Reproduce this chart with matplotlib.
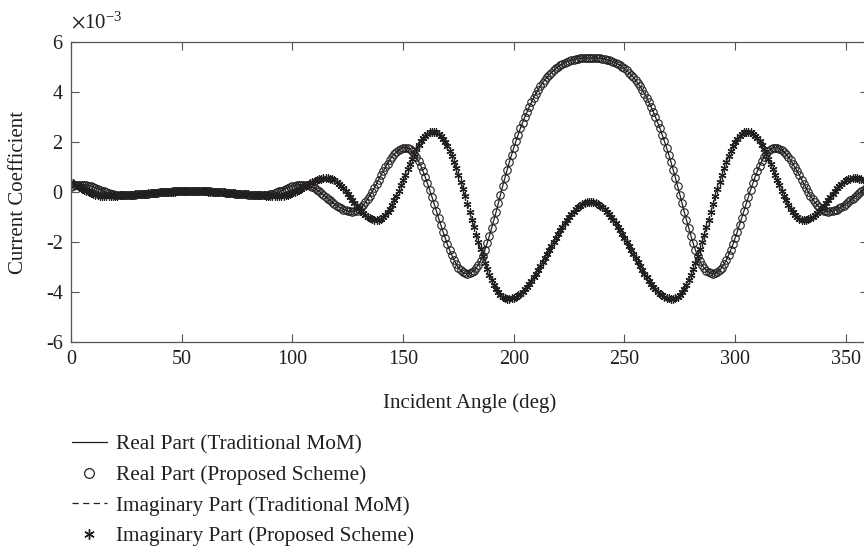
import matplotlib
matplotlib.use("Agg")
import matplotlib.pyplot as plt
from matplotlib.lines import Line2D

# incident angle (deg), one sample per degree
angle = list(range(0, 361))

# current coefficient, in units of 1e-3
real_part = [
    0.20, 0.24, 0.27, 0.29, 0.30, 0.30, 0.29, 0.28, 0.26, 0.24,
    0.21, 0.17, 0.14, 0.10, 0.06, 0.03, -0.01, -0.04, -0.07, -0.09,
    -0.11, -0.12, -0.12, -0.12, -0.12, -0.12, -0.11, -0.11, -0.11, -0.10,
    -0.09, -0.09, -0.08, -0.07, -0.07, -0.06, -0.05, -0.04, -0.03, -0.02,
    -0.01, -0.01, 0.00, 0.01, 0.02, 0.02, 0.03, 0.04, 0.04, 0.05,
    0.05, 0.05, 0.06, 0.06, 0.06, 0.06, 0.06, 0.06, 0.05, 0.05,
    0.05, 0.04, 0.04, 0.03, 0.02, 0.02, 0.01, 0.00, -0.01, -0.01,
    -0.02, -0.03, -0.04, -0.05, -0.06, -0.07, -0.07, -0.08, -0.09, -0.09,
    -0.10, -0.11, -0.11, -0.11, -0.12, -0.12, -0.12, -0.12, -0.12, -0.11,
    -0.09, -0.07, -0.04, -0.01, 0.03, 0.06, 0.10, 0.14, 0.17, 0.21,
    0.24, 0.26, 0.28, 0.29, 0.30, 0.30, 0.29, 0.27, 0.24, 0.20,
    0.15, 0.09, 0.03, -0.04, -0.11, -0.18, -0.26, -0.33, -0.41, -0.48,
    -0.54, -0.60, -0.65, -0.70, -0.73, -0.76, -0.77, -0.78, -0.77, -0.74,
    -0.68, -0.61, -0.52, -0.41, -0.28, -0.14, 0.01, 0.17, 0.33, 0.50,
    0.67, 0.83, 0.99, 1.14, 1.28, 1.41, 1.52, 1.61, 1.68, 1.74,
    1.77, 1.78, 1.76, 1.72, 1.64, 1.53, 1.39, 1.23, 1.04, 0.83,
    0.60, 0.35, 0.09, -0.18, -0.46, -0.75, -1.03, -1.31, -1.58, -1.84,
    -2.09, -2.32, -2.53, -2.72, -2.88, -3.02, -3.13, -3.21, -3.25, -3.27,
    -3.25, -3.21, -3.14, -3.04, -2.91, -2.75, -2.55, -2.31, -2.04, -1.75,
    -1.44, -1.12, -0.80, -0.45, -0.10, 0.24, 0.57, 0.89, 1.20, 1.49,
    1.77, 2.04, 2.30, 2.55, 2.78, 3.00, 3.21, 3.41, 3.60, 3.78,
    3.94, 4.09, 4.23, 4.36, 4.48, 4.59, 4.69, 4.78, 4.86, 4.94,
    5.01, 5.07, 5.12, 5.17, 5.21, 5.24, 5.27, 5.30, 5.32, 5.34,
    5.35, 5.36, 5.36, 5.36, 5.36, 5.36, 5.36, 5.36, 5.36, 5.35,
    5.34, 5.32, 5.30, 5.27, 5.24, 5.21, 5.17, 5.12, 5.07, 5.01,
    4.94, 4.86, 4.78, 4.69, 4.59, 4.48, 4.36, 4.23, 4.09, 3.94,
    3.78, 3.60, 3.41, 3.21, 3.00, 2.78, 2.55, 2.30, 2.04, 1.77,
    1.49, 1.20, 0.89, 0.57, 0.24, -0.10, -0.45, -0.80, -1.12, -1.44,
    -1.75, -2.04, -2.31, -2.55, -2.75, -2.91, -3.04, -3.14, -3.21, -3.25,
    -3.27, -3.25, -3.21, -3.13, -3.02, -2.88, -2.72, -2.53, -2.32, -2.09,
    -1.84, -1.58, -1.31, -1.03, -0.75, -0.46, -0.18, 0.09, 0.35, 0.60,
    0.83, 1.04, 1.23, 1.39, 1.53, 1.64, 1.72, 1.76, 1.78, 1.77,
    1.74, 1.68, 1.61, 1.52, 1.41, 1.28, 1.14, 0.99, 0.83, 0.67,
    0.50, 0.33, 0.17, 0.01, -0.14, -0.28, -0.41, -0.52, -0.61, -0.68,
    -0.74, -0.77, -0.78, -0.77, -0.76, -0.73, -0.70, -0.65, -0.60, -0.54,
    -0.48, -0.41, -0.33, -0.26, -0.18, -0.11, -0.04, 0.03, 0.09, 0.15,
    0.20,
]

imag_part = [
    0.39, 0.35, 0.30, 0.24, 0.19, 0.13, 0.08, 0.03, -0.01, -0.05,
    -0.09, -0.11, -0.13, -0.15, -0.15, -0.15, -0.15, -0.15, -0.15, -0.14,
    -0.14, -0.14, -0.13, -0.13, -0.12, -0.12, -0.11, -0.11, -0.10, -0.09,
    -0.09, -0.08, -0.07, -0.06, -0.06, -0.05, -0.04, -0.03, -0.03, -0.02,
    -0.01, -0.01, 0.00, 0.00, 0.01, 0.02, 0.02, 0.02, 0.03, 0.03,
    0.03, 0.04, 0.04, 0.04, 0.04, 0.04, 0.04, 0.04, 0.04, 0.03,
    0.03, 0.03, 0.02, 0.02, 0.02, 0.01, 0.00, 0.00, -0.01, -0.01,
    -0.02, -0.03, -0.03, -0.04, -0.05, -0.06, -0.06, -0.07, -0.08, -0.09,
    -0.09, -0.10, -0.11, -0.11, -0.12, -0.12, -0.13, -0.13, -0.14, -0.14,
    -0.14, -0.15, -0.15, -0.15, -0.15, -0.15, -0.15, -0.13, -0.11, -0.09,
    -0.05, -0.01, 0.03, 0.08, 0.13, 0.19, 0.24, 0.30, 0.35, 0.39,
    0.44, 0.48, 0.51, 0.53, 0.55, 0.56, 0.56, 0.54, 0.51, 0.47,
    0.41, 0.33, 0.24, 0.15, 0.04, -0.07, -0.19, -0.30, -0.42, -0.54,
    -0.64, -0.75, -0.84, -0.92, -0.99, -1.05, -1.09, -1.11, -1.12, -1.11,
    -1.07, -1.00, -0.91, -0.79, -0.66, -0.50, -0.33, -0.14, 0.06, 0.27,
    0.49, 0.70, 0.92, 1.13, 1.34, 1.54, 1.72, 1.88, 2.03, 2.15,
    2.26, 2.34, 2.39, 2.42, 2.42, 2.39, 2.33, 2.25, 2.13, 1.99,
    1.83, 1.64, 1.43, 1.20, 0.96, 0.70, 0.42, 0.13, -0.17, -0.48,
    -0.79, -1.10, -1.40, -1.71, -2.01, -2.29, -2.57, -2.83, -3.08, -3.31,
    -3.51, -3.70, -3.86, -4.00, -4.11, -4.19, -4.24, -4.27, -4.27, -4.25,
    -4.22, -4.18, -4.13, -4.06, -3.98, -3.88, -3.78, -3.67, -3.54, -3.41,
    -3.27, -3.12, -2.97, -2.81, -2.65, -2.49, -2.33, -2.16, -2.00, -1.84,
    -1.68, -1.53, -1.39, -1.25, -1.12, -0.99, -0.88, -0.78, -0.69, -0.61,
    -0.54, -0.48, -0.44, -0.41, -0.40, -0.40, -0.41, -0.44, -0.48, -0.54,
    -0.61, -0.69, -0.78, -0.88, -0.99, -1.12, -1.25, -1.39, -1.53, -1.68,
    -1.84, -2.00, -2.16, -2.33, -2.49, -2.65, -2.81, -2.97, -3.12, -3.27,
    -3.41, -3.54, -3.67, -3.78, -3.88, -3.98, -4.06, -4.13, -4.18, -4.22,
    -4.25, -4.27, -4.27, -4.24, -4.19, -4.11, -4.00, -3.86, -3.70, -3.51,
    -3.31, -3.08, -2.83, -2.57, -2.29, -2.01, -1.71, -1.40, -1.10, -0.79,
    -0.48, -0.17, 0.13, 0.42, 0.70, 0.96, 1.20, 1.43, 1.64, 1.83,
    1.99, 2.13, 2.25, 2.33, 2.39, 2.42, 2.42, 2.39, 2.34, 2.26,
    2.15, 2.03, 1.88, 1.72, 1.54, 1.34, 1.13, 0.92, 0.70, 0.49,
    0.27, 0.06, -0.14, -0.33, -0.50, -0.66, -0.79, -0.91, -1.00, -1.07,
    -1.11, -1.12, -1.11, -1.09, -1.05, -0.99, -0.92, -0.84, -0.75, -0.64,
    -0.54, -0.42, -0.30, -0.19, -0.07, 0.04, 0.15, 0.24, 0.33, 0.41,
    0.47, 0.51, 0.54, 0.56, 0.56, 0.55, 0.53, 0.51, 0.48, 0.44,
    0.39,
]

x_ticks = [0, 50, 100, 150, 200, 250, 300, 350]
y_ticks = [-6, -4, -2, 0, 2, 4, 6]

labels = [
    "Real Part (Traditional MoM)",
    "Real Part (Proposed Scheme)",
    "Imaginary Part (Traditional MoM)",
    "Imaginary Part (Proposed Scheme)",
]

ink = "#231f20"
plt.rcParams["font.family"] = ["Liberation Serif", "DejaVu Serif"]
plt.rcParams["mathtext.fontset"] = "stix"
plt.rcParams["axes.unicode_minus"] = False
plt.rcParams["font.size"] = 14.5

fig = plt.figure(figsize=(8.64, 5.56), dpi=100)
ax = fig.add_axes([71 / 864, 214 / 556, 797 / 864, 300 / 556])

asterisk = (6, 2, 0)
dash = (0, (5, 3.5))

# traditional MoM as lines, proposed scheme as markers on top
ax.plot(angle, real_part, "-", color=ink, lw=0.9)
ax.plot(angle, imag_part, ls=dash, color=ink, lw=0.9)
ax.plot(angle, real_part, "o", mfc="none", mec=ink, ms=5.4, mew=0.8)
ax.plot(angle, imag_part, marker=asterisk, ls="none", color=ink, ms=5.8, mew=0.9)

ax.set_xlim(0, 360)
ax.set_ylim(-6, 6)
ax.set_xticks(x_ticks)
ax.set_yticks(y_ticks)
ax.tick_params(direction="in", length=5.5, width=0.8, top=True, right=True,
               colors="#555555", labelcolor=ink, pad=6, labelsize=14.5)
for s in ax.spines.values():
    s.set_color("#555555")
    s.set_linewidth(0.9)

ax.set_xlabel("Incident Angle (deg)", color=ink, labelpad=17, fontsize=15)
ax.set_ylabel("Current Coefficient", color=ink, labelpad=13, fontsize=15)
ax.text(0.0, 1.03, r"$\times\mathregular{10^{-3}}$", transform=ax.transAxes,
        color=ink, fontsize=15, ha="left", va="bottom")

handles = [
    Line2D([], [], color=ink, ls="-", lw=0.9),
    Line2D([], [], color=ink, ls="none", marker="o", mfc="none", ms=7, mew=0.9),
    Line2D([], [], color=ink, ls=dash, lw=0.9),
    Line2D([], [], color=ink, ls="none", marker=asterisk, ms=7.5, mew=1.0),
]
fig.legend(handles, labels, loc="upper left", bbox_to_anchor=(61 / 864, 1 - 424 / 556),
           frameon=False, handlelength=1.65, handletextpad=0.45, labelspacing=0.5,
           borderpad=0, labelcolor=ink, fontsize=15.3)

fig.savefig("out.png", dpi=100)
